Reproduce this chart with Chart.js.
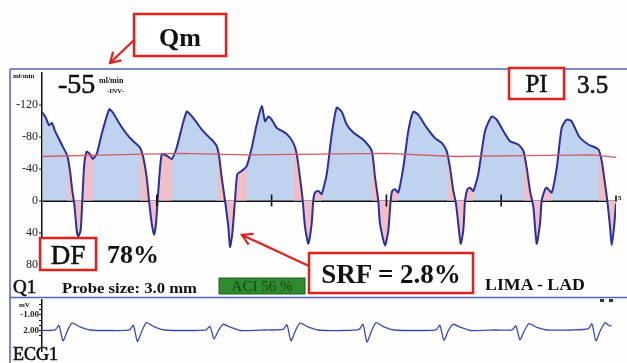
<!DOCTYPE html>
<html lang="en">
<head>
<meta charset="UTF-8" />
<title>LIMA - LAD flow</title>
<script src="https://cdn.jsdelivr.net/npm/chart.js"></script>
<style>
  body { margin: 0; background: #fff; }
  #wrap { position: relative; width: 627px; height: 363px; overflow: hidden; background: #fefefe; }
  canvas, svg { position: absolute; }
  #flowChart { left: 10px; top: 60px; }
  #ecgChart { left: 10px; top: 290px; }
  svg { left: 0; top: 0; pointer-events: none; }
  svg text { font-family: "Liberation Serif", "DejaVu Serif", serif; fill: #111; }
  svg text.heavy { stroke: #111; stroke-width: 0.6; }
</style>
</head>
<body>
<div id="wrap">
  <canvas id="flowChart" width="617" height="216"></canvas>
  <canvas id="ecgChart" width="617" height="72"></canvas>

  <svg width="627" height="363">
    <defs>
      <marker id="ah" markerUnits="userSpaceOnUse" markerWidth="14" markerHeight="14" refX="12" refY="7" orient="auto">
        <path d="M2,1 L12,7 L2,13" fill="none" stroke="#e3201b" stroke-width="2.2" />
      </marker>
    </defs>

    <!-- frame -->
    <line x1="10" y1="69" x2="627" y2="69" stroke="#5560b8" stroke-width="1.5" />
    <line x1="10" y1="69" x2="10" y2="363" stroke="#5560b8" stroke-width="1.5" />
    <line x1="10" y1="297.5" x2="627" y2="297.5" stroke="#5560b8" stroke-width="1.5" />

    <!-- Qm callout -->
    <rect x="134" y="14" width="92" height="42" fill="#fff" stroke="#e3201b" stroke-width="2.5" />
    <text x="180" y="46" font-size="26" font-weight="bold" text-anchor="middle">Qm</text>
    <line x1="134" y1="40" x2="110" y2="63" stroke="#e3201b" stroke-width="2.2" marker-end="url(#ah)" />

    <!-- mean flow readout -->
    <text x="13" y="78" font-size="7" font-weight="bold">ml/min</text>
    <text class="heavy" x="58" y="93" font-size="28">-55</text>
    <text x="99" y="83" font-size="8" font-weight="bold">ml/min</text>
    <text x="107" y="93" font-size="7" font-weight="bold">-INV-</text>

    <!-- PI -->
    <rect x="509" y="68" width="55" height="31" fill="#fff" stroke="#e3201b" stroke-width="2.5" />
    <text class="heavy" x="536.5" y="92" font-size="25" text-anchor="middle">PI</text>
    <text class="heavy" x="577" y="93" font-size="25">3.5</text>

    <!-- DF -->
    <rect x="40" y="238" width="56" height="32" fill="#fff" stroke="#e3201b" stroke-width="2.5" />
    <text class="heavy" x="68" y="264" font-size="27" text-anchor="middle">DF</text>
    <text x="107" y="263" font-size="26" font-weight="bold">78%</text>

    <!-- SRF -->
    <line x1="309" y1="266" x2="242" y2="235" stroke="#e3201b" stroke-width="2.2" marker-end="url(#ah)" />
    <rect x="309" y="253" width="164" height="40" fill="#fff" stroke="#e3201b" stroke-width="2.5" />
    <text x="391" y="283" font-size="27" font-weight="bold" text-anchor="middle">SRF = 2.8%</text>

    <!-- status row -->
    <text x="485" y="290" font-size="17" font-weight="bold" textLength="100" lengthAdjust="spacingAndGlyphs">LIMA - LAD</text>
    <text class="heavy" x="13" y="293" font-size="19">Q1</text>
    <text x="62" y="293" font-size="15" font-weight="bold" textLength="135" lengthAdjust="spacingAndGlyphs">Probe size: 3.0 mm</text>
    <rect x="219" y="278" width="86" height="16" fill="#2f8a2f" stroke="#1e5e1e" stroke-width="1" />
    <text x="262" y="291" font-size="15" text-anchor="middle" style="fill:#164a12">ACI 56 %</text>

    <!-- ECG labels -->
    <text x="19" y="307" font-size="7" font-weight="bold">mV</text>
    <text class="heavy" x="13" y="360" font-size="18">ECG1</text>
    <rect x="600" y="299" width="4" height="3" fill="#333" />
    <rect x="609" y="299" width="4" height="3" fill="#333" />
  </svg>
</div>

<script>
  // flow (ml/min, inverted display) against time (s)
  const flowT = [
    0.004, 0.035, 0.061, 0.087, 0.113, 0.172, 0.220, 0.244, 0.264, 0.281, 0.302, 0.316, 0.337, 0.351, 0.368, 0.389, 0.418, 0.442, 0.476,
    0.520, 0.586, 0.621, 0.679, 0.738, 0.795, 0.854, 0.882, 0.912, 0.932, 0.956, 0.976, 0.993, 1.013, 1.043, 1.086, 1.130,
    1.173, 1.260, 1.318, 1.391, 1.463, 1.492, 1.522, 1.544, 1.565, 1.594, 1.623, 1.638, 1.658, 1.681, 1.701, 1.740, 1.783,
    1.827, 1.870, 1.914, 1.943, 1.971, 2.001, 2.044, 2.132, 2.189, 2.219, 2.247, 2.271, 2.291, 2.320, 2.349, 2.363, 2.378, 2.407, 2.436,
    2.480, 2.524, 2.567, 2.611, 2.654, 2.712, 2.799, 2.872, 2.901, 2.929, 2.944, 2.988, 3.017, 3.037, 3.051, 3.075, 3.104,
    3.147, 3.191, 3.234, 3.278, 3.351, 3.423, 3.482, 3.525, 3.554, 3.583, 3.606, 3.626, 3.647, 3.670, 3.685, 3.705, 3.728, 3.757,
    3.800, 3.859, 3.917, 3.961, 4.018, 4.077, 4.149, 4.193, 4.222, 4.251, 4.280, 4.309, 4.338, 4.353, 4.382, 4.396, 4.440,
    4.484, 4.527, 4.571, 4.614, 4.679, 4.759, 4.846, 4.875, 4.904, 4.924, 4.948, 4.962, 4.983, 5.000
  ];
  const flowQ = [
    -110, -103, -94, -97, -87, -70, -56, -37, -12, 4, 37, 45, 37, 0, -45, -61, -58, -52, -58,
    -83, -114, -109, -95, -83, -74, -66, -54, -29, 0, 29, 43, 29, -12, -58, -56, -52,
    -66, -111, -103, -89, -78, -74, -68, -54, -29, 0, 33, 58, 41, 0, -33, -37, -43,
    -66, -95, -118, -99, -105, -101, -91, -83, -72, -58, -29, 0, 33, 54, 29, 0, -10, -12, -8,
    -33, -83, -116, -111, -95, -85, -76, -62, -29, 0, 29, 56, 37, 0, -12, -14, -10,
    -41, -87, -111, -107, -91, -78, -72, -62, -41, -12, 4, 29, 54, 37, 0, -14, -16, -12,
    -33, -87, -105, -101, -87, -74, -70, -62, -41, -12, 8, 54, 29, 0, -14, -16, -10,
    -41, -91, -101, -99, -80, -70, -64, -50, -21, 0, 33, 56, 33, 4
  ];
  // systolic phase of each beat (pink shading)
  const sysStart = [0.220, 0.854, 1.522, 2.189, 2.872, 3.525, 4.193, 4.846];
  const sysEnd   = [0.442, 1.130, 1.783, 2.436, 3.104, 3.757, 4.440, 5.000];

  // mean flow trace
  const meanT = [0, 0.6, 1.2, 1.8, 2.4, 3.0, 3.6, 4.2, 4.8, 5.0];
  const meanQ = [-55, -57, -59, -57, -58, -59, -55, -56, -57, -54];

  const flowTicks = [-120, -80, -40, 0, 40, 80];
  const timeTicks = [1, 2, 3, 4, 5];

  // ECG (mV, inverted display)
  const ecgT = [
    0.000, 0.114, 0.148, 0.183, 0.222, 0.262, 0.331, 0.418, 0.600,
    0.762, 0.796, 0.831, 0.870, 0.910, 0.979, 1.066, 1.300,
    1.429, 1.463, 1.498, 1.537, 1.577, 1.646, 1.733, 1.950,
    2.100, 2.134, 2.169, 2.208, 2.248, 2.317, 2.404, 2.620,
    2.762, 2.796, 2.831, 2.870, 2.910, 2.979, 3.066, 3.300,
    3.432, 3.466, 3.501, 3.540, 3.580, 3.649, 3.736, 3.950,
    4.094, 4.128, 4.163, 4.202, 4.242, 4.311, 4.398, 4.620,
    4.756, 4.790, 4.825, 4.864, 4.904, 4.930, 4.960
  ];
  const ecgV = [
    2.0, 1.9, 1.0, 4.0, 2.0, 0.6, 1.3, 1.9, 2.0,
    1.9, 1.0, 4.1, 2.1, 0.5, 1.3, 1.9, 2.0,
    1.9, 1.2, 3.6, 2.0, 0.8, 1.4, 2.0, 1.9,
    1.8, 0.9, 4.0, 2.0, 0.6, 1.3, 1.9, 2.0,
    1.8, 0.8, 4.2, 2.1, 0.5, 1.3, 1.9, 2.0,
    1.9, 1.0, 3.9, 2.0, 0.8, 1.4, 2.0, 1.9,
    1.9, 1.1, 3.8, 2.0, 0.7, 1.4, 1.9, 1.9,
    1.7, 0.7, 4.0, 2.0, 0.5, 0.9, 1.2
  ];
  const ecgTicks = [-3, -2, -1, 0, 1, 2, 3];
  const ecgLabels = { '-1': '-1.00', '2': '2.00' };

  const serif = '"Liberation Serif", "DejaVu Serif", serif';

  const flowPts = flowT.map((t, i) => ({ x: t, y: flowQ[i] }));
  const inSys = t => sysStart.some((s, i) => t >= s && t <= sysEnd[i]);
  const sysPts = flowT.map((t, i) => ({ x: t, y: inSys(t) ? flowQ[i] : null }));
  const meanPts = meanT.map((t, i) => ({ x: t, y: meanQ[i] }));

  // tick marks across the zero line, with the "5" s label at the end
  const zeroTicks = {
    id: 'zeroTicks',
    afterDatasetsDraw(chart) {
      const ctx = chart.ctx, xs = chart.scales.x, y0 = chart.scales.y.getPixelForValue(0);
      ctx.save();
      ctx.strokeStyle = '#111';
      ctx.lineWidth = 1.6;
      timeTicks.forEach(t => {
        const px = xs.getPixelForValue(t);
        ctx.beginPath();
        if (t < 5) { ctx.moveTo(px, y0 - 6); ctx.lineTo(px, y0 + 6); }
        else { ctx.moveTo(px, y0 - 5); ctx.lineTo(px, y0 + 1); }
        ctx.stroke();
      });
      ctx.fillStyle = '#111';
      ctx.font = 'bold 7px ' + serif;
      ctx.fillText('5', xs.getPixelForValue(5) + 2, y0 - 1);
      ctx.restore();
    }
  };

  new Chart(document.getElementById('flowChart'), {
    type: 'line',
    data: {
      datasets: [
        { label: 'mean', data: meanPts, borderColor: '#d35a68', borderWidth: 1.3, pointRadius: 0, fill: false, order: 0 },
        { label: 'systole', data: sysPts, borderWidth: 0, pointRadius: 0, spanGaps: false, tension: 0.2,
          fill: 'origin', backgroundColor: '#f2bec6', order: 1 },
        { label: 'flow', data: flowPts, borderColor: '#2b2f9a', borderWidth: 2, pointRadius: 0, tension: 0.2,
          fill: 'origin', backgroundColor: '#bfd3ef', order: 2 }
      ]
    },
    options: {
      responsive: false,
      animation: false,
      events: [],
      devicePixelRatio: 1,
      layout: { padding: { top: 12.5, bottom: 11.5, left: 0, right: 11 } },
      plugins: { legend: { display: false }, tooltip: { enabled: false }, filler: { drawTime: 'beforeDatasetsDraw' } },
      scales: {
        x: { type: 'linear', min: 0, max: 5, display: false },
        y: {
          min: -160, max: 80, reverse: true,
          afterFit: s => { s.width = 32; },
          afterBuildTicks: s => { s.ticks = flowTicks.map(v => ({ value: v })); },
          border: { display: true, color: '#111', width: 1.5 },
          grid: {
            color: c => (c.tick && c.tick.value === 0 ? '#111' : 'rgba(0,0,0,0)'),
            lineWidth: c => (c.tick && c.tick.value === 0 ? 2 : 0),
            tickColor: '#111', tickLength: 3, tickWidth: 1.2
          },
          ticks: { color: '#222', padding: 1, autoSkip: false, font: { family: serif, size: 12 } }
        }
      }
    },
    plugins: [zeroTicks]
  });

  new Chart(document.getElementById('ecgChart'), {
    type: 'line',
    data: {
      datasets: [{
        data: ecgT.map((t, i) => ({ x: t, y: ecgV[i] })),
        borderColor: '#3a48b8', borderWidth: 1.3, pointRadius: 0, tension: 0.2, fill: false
      }]
    },
    options: {
      responsive: false,
      animation: false,
      events: [],
      devicePixelRatio: 1,
      layout: { padding: { top: 9.3, bottom: 10.7, left: 0, right: 11 } },
      plugins: { legend: { display: false }, tooltip: { enabled: false } },
      scales: {
        x: { type: 'linear', min: 0, max: 5, display: false },
        y: {
          min: -4, max: 6, reverse: true,
          afterFit: s => { s.width = 32; },
          afterBuildTicks: s => { s.ticks = ecgTicks.map(v => ({ value: v })); },
          border: { display: true, color: '#111', width: 1.5 },
          grid: { drawOnChartArea: false, tickColor: '#111', tickLength: 3, tickWidth: 1 },
          ticks: {
            color: '#222', padding: 0, autoSkip: false, font: { family: serif, size: 9, weight: 'bold' },
            callback: v => ecgLabels[String(v)] || ''
          }
        }
      }
    }
  });
</script>
</body>
</html>
